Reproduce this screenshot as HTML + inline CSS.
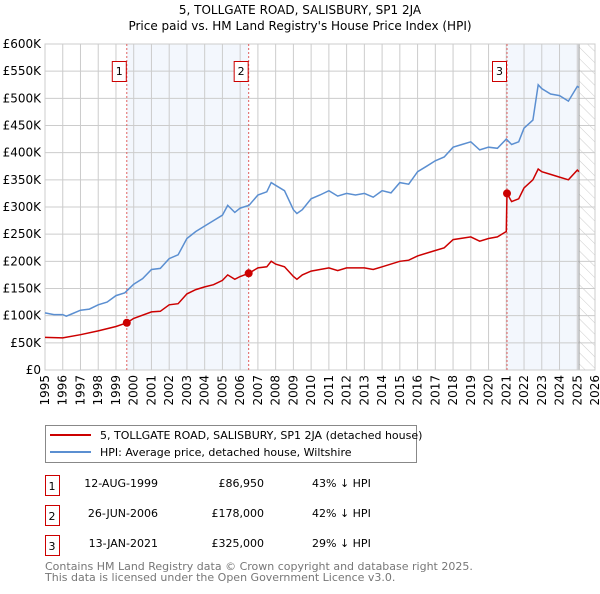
<!DOCTYPE html>
<html><head><meta charset="utf-8"><style>
body{margin:0;background:#fff;font-family:"DejaVu Sans","Liberation Sans",sans-serif;}
svg text{font-family:"DejaVu Sans","Liberation Sans",sans-serif;}
</style></head><body>
<svg id="c" width="600" height="590" xmlns="http://www.w3.org/2000/svg">
<defs><pattern id="hatch" width="8" height="8" patternUnits="userSpaceOnUse" patternTransform="rotate(-45)"><line x1="0" y1="0" x2="0" y2="8" stroke="#ccc" stroke-width="1"/></pattern></defs>
<text x="300" y="14" text-anchor="middle" font-size="12">5, TOLLGATE ROAD, SALISBURY, SP1 2JA</text>
<text x="300" y="30" text-anchor="middle" font-size="12">Price paid vs. HM Land Registry's House Price Index (HPI)</text>
<g id="plot"></g>
<g>
<rect x="45.5" y="425.5" width="371" height="37" fill="#fff" stroke="#888"/>
<line x1="50" y1="435" x2="91" y2="435" stroke="#cc0000" stroke-width="2"/>
<text x="100" y="439" font-size="11">5, TOLLGATE ROAD, SALISBURY, SP1 2JA (detached house)</text>
<line x1="50" y1="452" x2="91" y2="452" stroke="#5b8fd1" stroke-width="2"/>
<text x="100" y="456" font-size="11">HPI: Average price, detached house, Wiltshire</text>
</g>
<g font-size="11">
<rect x="45.5" y="475.5" width="14" height="20" fill="#fff" stroke="#cc0000"/><text x="52" y="490" text-anchor="middle">1</text>
<text x="158" y="487" text-anchor="end">12-AUG-1999</text><text x="264" y="487" text-anchor="end">£86,950</text><text x="312" y="487">43% ↓ HPI</text>
<rect x="45.5" y="505.5" width="14" height="20" fill="#fff" stroke="#cc0000"/><text x="52" y="520" text-anchor="middle">2</text>
<text x="158" y="517" text-anchor="end">26-JUN-2006</text><text x="264" y="517" text-anchor="end">£178,000</text><text x="312" y="517">42% ↓ HPI</text>
<rect x="45.5" y="535.5" width="14" height="20" fill="#fff" stroke="#cc0000"/><text x="52" y="550" text-anchor="middle">3</text>
<text x="158" y="547" text-anchor="end">13-JAN-2021</text><text x="264" y="547" text-anchor="end">£325,000</text><text x="312" y="547">29% ↓ HPI</text>
</g>
<text x="45" y="570" font-size="11" fill="#777">Contains HM Land Registry data © Crown copyright and database right 2025.</text>
<text x="45" y="581" font-size="11" fill="#777">This data is licensed under the Open Government Licence v3.0.</text>
</svg>
<script>
const hpiT=[1995,1995.5,1996,1996.2,1996.5,1997,1997.5,1998,1998.5,1999,1999.5,2000,2000.5,2001,2001.5,2002,2002.5,2003,2003.5,2004,2004.5,2005,2005.3,2005.7,2006,2006.5,2007,2007.5,2007.75,2008,2008.5,2009,2009.2,2009.5,2010,2010.5,2011,2011.5,2012,2012.5,2013,2013.5,2014,2014.5,2015,2015.5,2016,2016.5,2017,2017.5,2018,2018.5,2019,2019.5,2020,2020.5,2021,2021.3,2021.7,2022,2022.5,2022.8,2023,2023.5,2024,2024.5,2025,2025.1];
const hpiV=[105,102,102,99,103,110,112,120,125,137,142,158,168,185,187,205,212,242,255,265,275,285,303,290,298,303,322,328,345,340,330,295,288,295,315,322,330,320,325,322,325,318,330,326,345,342,365,375,385,392,410,415,420,405,410,408,425,415,420,445,460,525,518,508,505,495,522,520];
const ppT=[1995,1996,1997,1998,1999,1999.61,2000,2001,2001.5,2002,2002.5,2003,2003.5,2004,2004.5,2005,2005.3,2005.7,2006,2006.48,2007,2007.5,2007.75,2008,2008.5,2009,2009.2,2009.5,2010,2011,2011.5,2012,2013,2013.5,2014,2015,2015.5,2016,2017,2017.5,2018,2019,2019.5,2020,2020.5,2021.0,2021.04,2021.3,2021.7,2022,2022.5,2022.8,2023,2023.5,2024,2024.5,2025,2025.1];
const ppV=[60,59,65,72,80,86.95,95,107,108,120,122,140,148,153,157,165,175,167,172,178,188,190,200,195,190,172,167,175,182,188,183,188,188,185,190,200,202,210,220,225,240,245,237,242,245,255,325,310,315,335,350,370,365,360,355,350,368,365];
const saleT=[1999.61,2006.48,2021.04];
const saleV=[86.95,178,325];
const saleLabels=["1","2","3"];
const yTicks=[0,50,100,150,200,250,300,350,400,450,500,550,600];
const yTickLabels=["£0","£50K","£100K","£150K","£200K","£250K","£300K","£350K","£400K","£450K","£500K","£550K","£600K"];
const years=[1995,1996,1997,1998,1999,2000,2001,2002,2003,2004,2005,2006,2007,2008,2009,2010,2011,2012,2013,2014,2015,2016,2017,2018,2019,2020,2021,2022,2023,2024,2025,2026];
const X0=45,X1=595,Y0=370,Y1=44;
const xs=t=>X0+(t-1995)/31*(X1-X0);
const ys=v=>Y0-v/600*(Y0-Y1);
const NS="http://www.w3.org/2000/svg";
const g=document.getElementById('plot');
function mk(tag,attrs,name){const e=document.createElementNS(NS,tag);for(const k in attrs)e.setAttribute(k,attrs[k]);


g.appendChild(e);return e;}
mk('rect',{x:xs(saleT[0]),y:Y1,width:xs(saleT[1])-xs(saleT[0]),height:Y0-Y1,fill:'#eef3fc',opacity:0.7},'shade-1-2');
mk('rect',{x:xs(saleT[2]),y:Y1,width:xs(2025.1)-xs(saleT[2]),height:Y0-Y1,fill:'#eef3fc',opacity:0.7},'shade-3');
mk('rect',{x:xs(2025.1),y:Y1,width:X1-xs(2025.1),height:Y0-Y1,fill:'url(#hatch)'},'future-hatch');
yTicks.forEach((v,i)=>{mk('line',{x1:X0,x2:X1,y1:ys(v),y2:ys(v),stroke:'#ccc'},'y-gridline');
const t=mk('text',{x:X0-4,y:ys(v)+4,'text-anchor':'end','font-size':12},'y-tick-label');t.textContent=yTickLabels[i];});
years.forEach(yr=>{mk('line',{x1:xs(yr),x2:xs(yr),y1:Y1,y2:Y0,stroke:'#ccc'},'x-gridline');
const t=mk('text',{x:0,y:0,'text-anchor':'end','font-size':12,transform:`translate(${xs(yr)+4},${Y0+5}) rotate(-90)`},'x-tick-label');t.textContent=yr;});
mk('line',{x1:xs(2025.1),x2:xs(2025.1),y1:Y1,y2:Y0,stroke:'#999'},'data-end-line');
mk('rect',{x:X0,y:Y1,width:X1-X0,height:Y0-Y1,fill:'none',stroke:'#ccc'},'plot-border');
saleT.forEach((t,i)=>{mk('line',{x1:xs(t),x2:xs(t),y1:Y1,y2:Y0,stroke:'#e06060','stroke-dasharray':'2,2'},'sale-marker-line');
mk('rect',{x:xs(t)-14.5,y:61.5,width:14,height:20,fill:'#fff',stroke:'#cc0000'},'sale-label-box');
const tx=mk('text',{x:xs(t)-7.5,y:75,'text-anchor':'middle','font-size':11},'sale-label');tx.textContent=saleLabels[i];});
const path=(T,V)=>T.map((t,i)=>(i?'L':'M')+xs(t).toFixed(1)+','+ys(V[i]).toFixed(1)).join('');
mk('path',{d:path(hpiT,hpiV),fill:'none',stroke:'#5b8fd1','stroke-width':1.5},'hpi-line');
mk('path',{d:path(ppT,ppV),fill:'none',stroke:'#cc0000','stroke-width':1.5},'price-paid-line');
saleT.forEach((t,i)=>mk('circle',{cx:xs(t),cy:ys(saleV[i]),r:4,fill:'#cc0000'},'sale-point'));
</script>
</body></html>
